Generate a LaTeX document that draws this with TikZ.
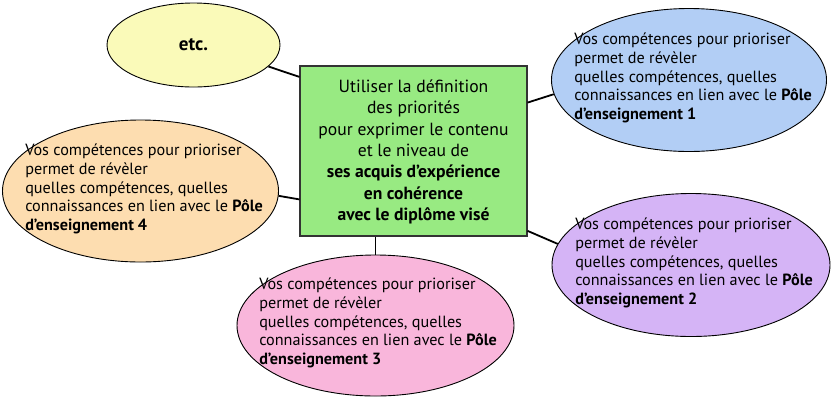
\documentclass[tikz,border=0pt]{standalone}
\usepackage{fontspec}
\setmainfont{PT Sans}
\usetikzlibrary{shapes.geometric}
\definecolor{cyel}{RGB}{250,250,185}
\definecolor{cgreen}{RGB}{152,234,130}
\definecolor{cblue}{RGB}{178,206,245}
\definecolor{corange}{RGB}{253,221,176}
\definecolor{cpurple}{RGB}{213,180,246}
\definecolor{cpink}{RGB}{249,182,219}
\tikzset{
  bubble/.style={ellipse, draw=black, line width=0.9pt, inner sep=0pt, minimum width=275pt, minimum height=143pt},
  bubtext/.style={align=left, inner sep=0pt, font=\fontsize{16.2}{18.6}\selectfont},
  centerbox/.style={rectangle, draw=black!80, line width=1.1pt, fill=cgreen, minimum width=227pt, minimum height=170pt, inner sep=0pt},
  centertext/.style={align=center, inner sep=0pt, font=\fontsize{17.6}{21.3}\selectfont},
  link/.style={draw=black, line width=1.8pt}
}
\begin{document}
\begin{tikzpicture}[x=1pt,y=-1pt]
\useasboundingbox (0,0) rectangle (832,400);
% center box
\node[centerbox] (box) at (413.5,151) {};
\node[centertext] (boxt) at (413.5,152) {Utiliser la définition\\des priorités\\pour exprimer le contenu\\et le niveau de\\\textbf{ses acquis d’expérience}\\\textbf{en cohérence}\\\textbf{avec le diplôme visé}};
% etc
\node[bubble, fill=cyel, minimum width=173pt, minimum height=84pt] (etc) at (193.5,45) {};
\node[font=\fontsize{19}{22}\selectfont\bfseries, inner sep=0pt] (etct) at (193.5,45) {etc.};
% bubbles
\node[bubble, fill=cblue] (b1) at (689,80) {};
\node[bubtext] (t1) at (693,78) {Vos compétences pour prioriser\\permet de révèler\\quelles compétences, quelles\\connaissances en lien avec le \textbf{Pôle}\\\textbf{d’enseignement 1}};
\node[bubble, fill=cpurple, minimum width=278pt] (b2) at (691,265) {};
\node[bubtext] (t2) at (694,263) {Vos compétences pour prioriser\\permet de révèler\\quelles compétences, quelles\\connaissances en lien avec le \textbf{Pôle}\\\textbf{d’enseignement 2}};
\node[bubble, fill=cpink, minimum width=277pt, minimum height=141pt] (b3) at (375.5,325.5) {};
\node[bubtext] (t3) at (378,323) {Vos compétences pour prioriser\\permet de révèler\\quelles compétences, quelles\\connaissances en lien avec le \textbf{Pôle}\\\textbf{d’enseignement 3}};
\node[bubble, fill=corange, minimum width=276pt, minimum height=142pt] (b4) at (140.5,191) {};
\node[bubtext] (t4) at (144,189) {Vos compétences pour prioriser\\permet de révèler\\quelles compétences, quelles\\connaissances en lien avec le \textbf{Pôle}\\\textbf{d’enseignement 4}};
% connectors
\draw[link] (etc.-16) -- (box.147);
\draw[link] (box.23) -- (b1.186);
\draw[link] (b4.-2) -- (box.203);
\draw[link] (box.-35) -- (b2.171);
\draw[link] (box.south -| b3.north) -- (b3.north);
\end{tikzpicture}
\end{document}
